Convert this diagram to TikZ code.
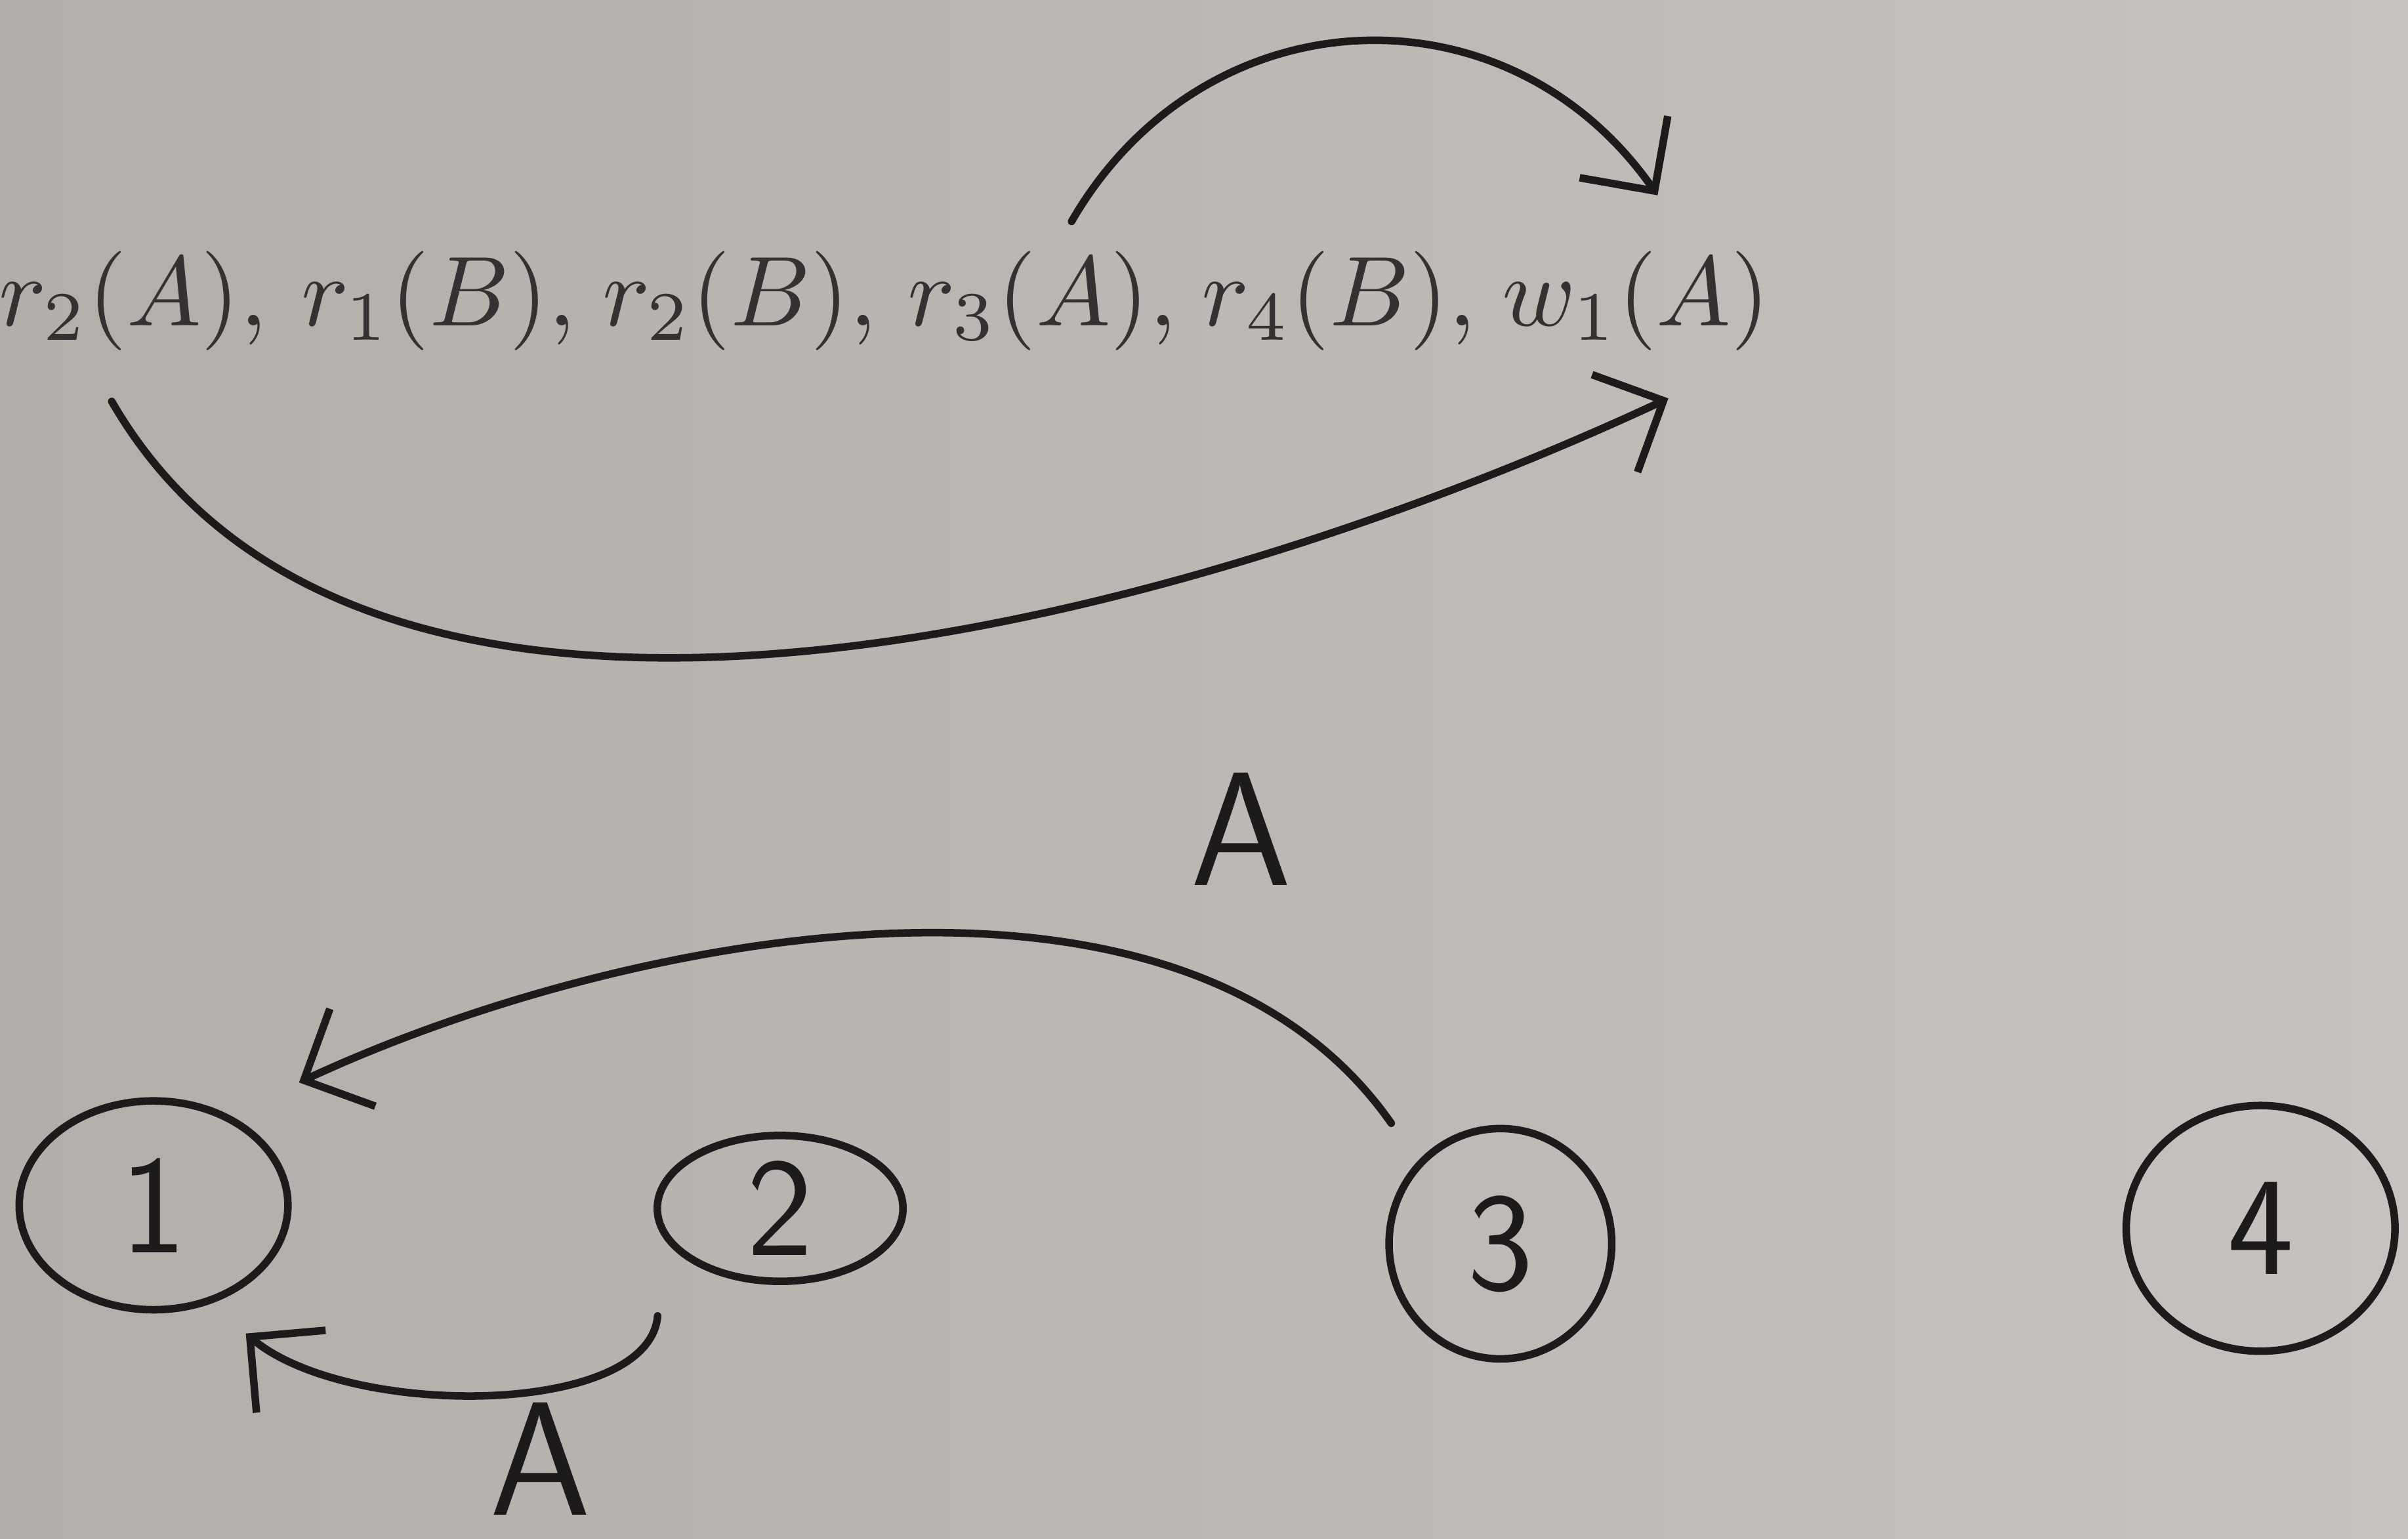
\documentclass[tikz,border=0pt]{standalone}
\usepackage{fontspec}
\usetikzlibrary{arrows.meta, positioning, shapes.geometric}
\definecolor{paper}{RGB}{178,174,170}
\definecolor{paperlight}{RGB}{197,194,191}
\definecolor{ink}{RGB}{28,26,26}

\begin{document}
\begin{tikzpicture}[
    term/.style={inner sep=0pt, anchor=base west, text=ink!90, scale=1.84, transform shape},
    state/.style={draw=ink, line width=1.4pt, ellipse, inner sep=0pt, text=ink, font=\fontsize{26}{30}\selectfont\sffamily},
    lbl/.style={text=ink, font=\fontsize{30}{34}\selectfont\sffamily},
    hand/.style={draw=ink, line width=1.4pt, line cap=round, -{Straight Barb[length=3.5mm,width=7mm]}}
  ]
        % Paper
        \fill[left color=paper, right color=paperlight] (0,0) rectangle (15.68,-10.02);
        \useasboundingbox (0,0) rectangle (15.68,-10.02);

        % Schedule
        \node[term] (r2A) at (-0.02,-2.12) {$r_2(A),$};
        \node[term] (r1B) at (1.95,-2.12) {$r_1(B),$};
        \node[term] (r2B) at (3.91,-2.12) {$r_2(B),$};
        \node[term] (r3A) at (5.90,-2.12) {$r_3(A),$};
        \node[term] (r4B) at (7.81,-2.12) {$r_4(B),$};
        \node[term] (w1A) at (9.77,-2.12) {$w_1(A)$};

        \draw[hand] ([xshift=1.9mm,yshift=1.8mm]r3A.north) to[out=60, in=125, looseness=1.15] ([xshift=1.4mm,yshift=3.5mm]w1A.north);
        \draw[hand] ([xshift=-1.4mm,yshift=-3.2mm]r2A.south) to[out=-60, in=205, looseness=0.85] ([xshift=2.1mm,yshift=-3mm]w1A.south);

        % Precedence graph
        \node[state, minimum width=1.75cm, minimum height=1.36cm] (s1) at (1.0,-7.85) {1};
        \node[state, minimum width=1.6cm, minimum height=0.95cm] (s2) at (5.08,-7.87) {2};
        \node[state, minimum width=1.45cm, minimum height=1.5cm] (s3) at (9.77,-8.10) {3};
        \node[state, minimum width=1.75cm, minimum height=1.6cm] (s4) at (14.72,-8.00) {4};

        \draw[hand, shorten <=3mm, shorten >=5mm] (s3.135) to[out=125, in=25, looseness=0.9] (s1.50);
        \draw[hand, shorten <=5mm, shorten >=3mm] (s2.195) to[out=-95, in=-40] (s1.-60);

        \node[lbl] (la31) at (8.08,-5.40) {A};
        \node[lbl] (la21) at (3.52,-9.50) {A};
\end{tikzpicture}
\end{document}
